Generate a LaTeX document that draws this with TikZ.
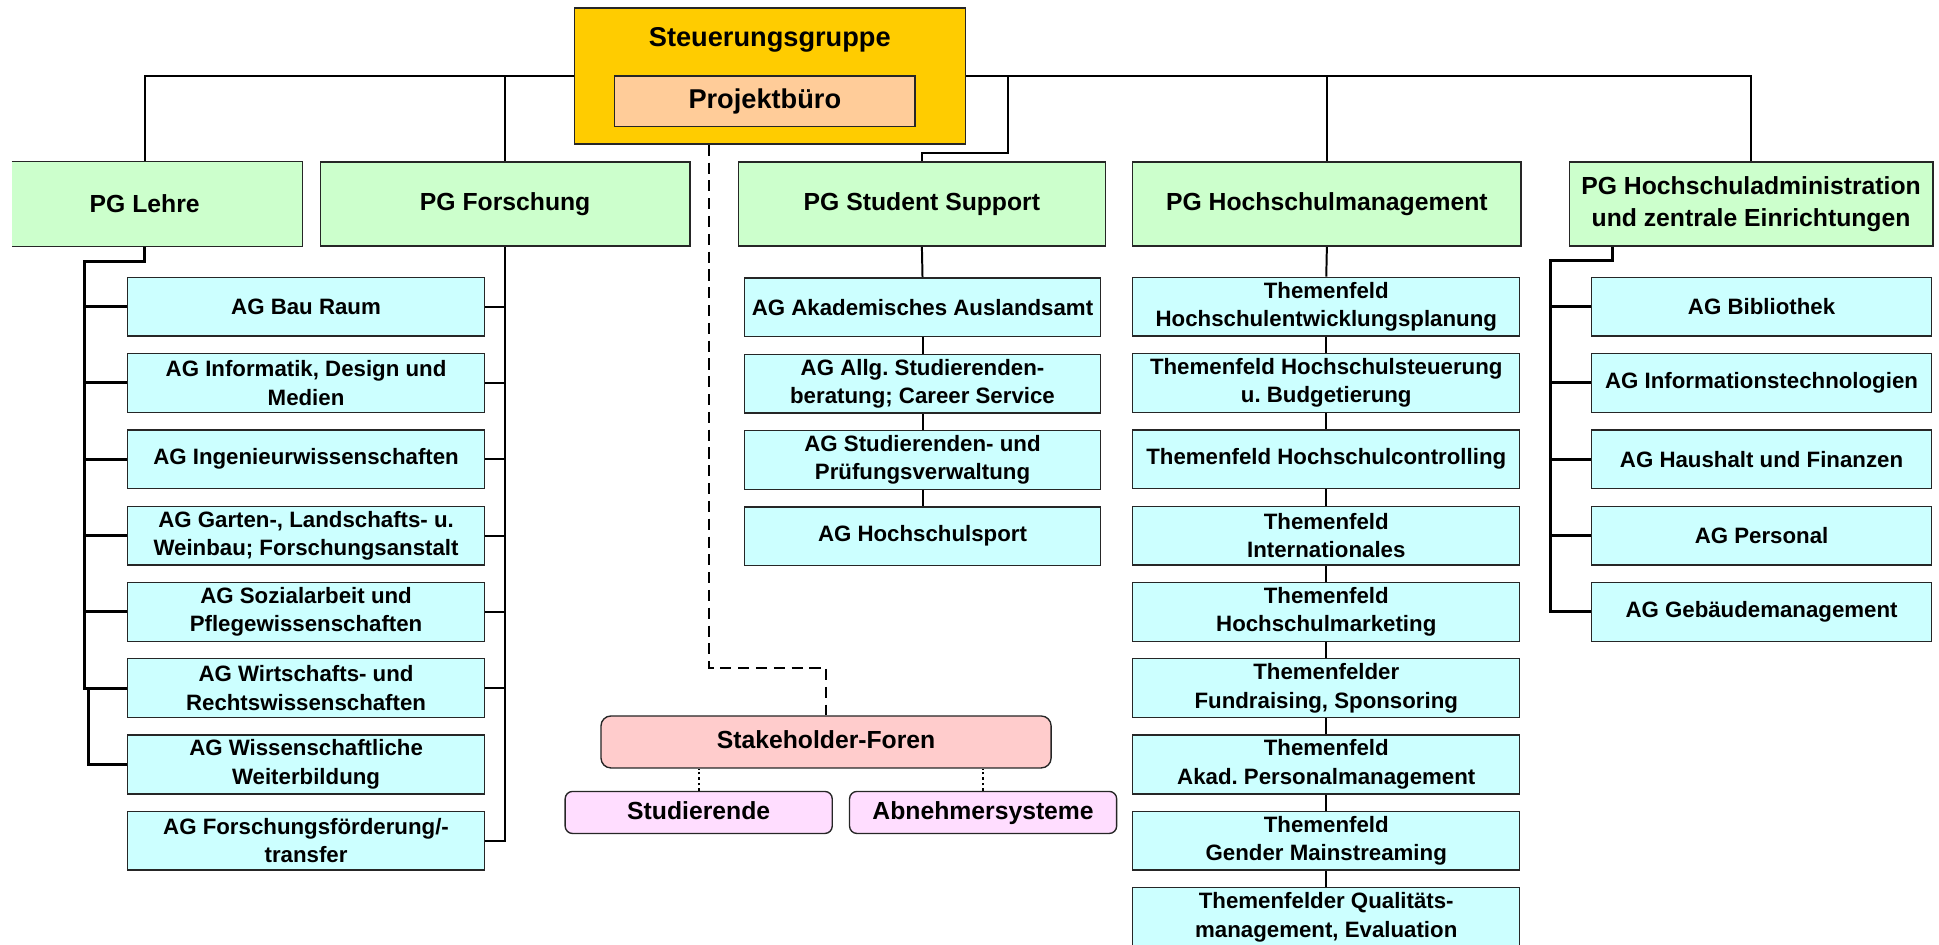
\documentclass[tikz,border=0pt]{standalone}
\usepackage{fontspec}
\setmainfont{Liberation Sans}
\usetikzlibrary{positioning,backgrounds}
\frenchspacing

\definecolor{gold}{HTML}{FFCC00}
\definecolor{peach}{HTML}{FFCC99}
\definecolor{pggreen}{HTML}{CCFFCC}
\definecolor{agcyan}{HTML}{CCFFFF}
\definecolor{forumrose}{HTML}{FFCCCC}
\definecolor{groupviolet}{HTML}{FFDDFF}

\tikzset{
  frame/.style={draw=black!85, line width=0.55pt},
  box/.style={frame, inner sep=1pt, align=center},
  pg/.style={box, fill=pggreen, minimum height=34pt, font=\fontsize{10}{13.2}\selectfont\bfseries},
  ag/.style={box, fill=agcyan, minimum height=23.75pt, font=\fontsize{9}{11.5}\selectfont\bfseries},
  agl/.style={ag, minimum width=144.5pt},
  ags/.style={ag, minimum width=144pt},
  agm/.style={ag, minimum width=156.5pt},
  aga/.style={ag, minimum width=137.5pt},
  forumbox/.style={box, rounded corners=4pt, text height=7.4pt, text depth=2.1pt, font=\fontsize{10}{12}\selectfont\bfseries},
  link/.style={line width=0.8pt},
  bus/.style={line width=1.2pt},
  dashline/.style={line width=1pt, dash pattern=on 4.5pt off 2.7pt},
  dotline/.style={line width=0.9pt, dash pattern=on 1pt off 1.2pt}
}

\begin{document}
\begin{tikzpicture}[x=0.5pt, y=-0.5pt, node distance=30.85pt]
\useasboundingbox (0,0) rectangle (1568,764);

\node (steuer) [box, fill=gold, minimum width=158pt, minimum height=55pt] at (622.5,61.5) {};
\node (steuertitle) [anchor=base, font=\fontsize{11}{13}\selectfont\bfseries] at (622.5,37.7) {Steuerungsgruppe};
\node (buero) [box, fill=peach, minimum width=121.5pt, minimum height=20.5pt, font=\fontsize{11}{13}\selectfont\bfseries] at (618.5,82) {Projektbüro};

\node (lehre) [pg, draw=none, minimum width=117pt] at (127,165) {PG Lehre\hspace*{10pt}};
\draw[frame] (lehre.north west) -- (lehre.north east) -- (lehre.south east) -- (lehre.south west);
\node (forsch) [pg, minimum width=149.5pt] at (408.5,165) {PG Forschung};
\node (support) [pg, minimum width=148.5pt] at (745.5,165) {PG Student Support};
\node (hsm) [pg, minimum width=157pt] at (1073,165) {PG Hochschulmanagement};
\node (admin) [pg, minimum width=147pt] at (1416,165) {PG Hochschuladministration\\und zentrale Einrichtungen};

\node (le1) [agl] at (247.5,248) {AG Bau Raum};
\node (le2) [agl, below of=le1] {AG Informatik, Design und\\Medien};
\node (le3) [agl, below of=le2] {AG Ingenieurwissenschaften};
\node (le4) [agl, below of=le3] {AG Garten-, Landschafts- u.\\Weinbau; Forschungsanstalt};
\node (le5) [agl, below of=le4] {AG Sozialarbeit und\\Pflegewissenschaften};
\node (le6) [agl, below of=le5] {AG Wirtschafts- und\\Rechtswissenschaften};
\node (le7) [agl, below of=le6] {AG Wissenschaftliche\\Weiterbildung};
\node (le8) [agl, below of=le7] {AG Forschungsförderung/-\\transfer};

\node (ss1) [ags] at (746,248.5) {AG Akademisches Auslandsamt};
\node (ss2) [ags, below of=ss1] {AG Allg. Studierenden-\\beratung; Career Service};
\node (ss3) [ags, below of=ss2] {AG Studierenden- und\\Prüfungsverwaltung};
\node (ss4) [ags, below of=ss3] {AG Hochschulsport};

\node (hm1) [agm] at (1072.5,248) {Themenfeld\\Hochschulentwicklungsplanung};
\node (hm2) [agm, below of=hm1] {Themenfeld Hochschulsteuerung\\u. Budgetierung};
\node (hm3) [agm, below of=hm2] {Themenfeld Hochschulcontrolling};
\node (hm4) [agm, below of=hm3] {Themenfeld\\Internationales};
\node (hm5) [agm, below of=hm4] {Themenfeld\\Hochschulmarketing};
\node (hm6) [agm, below of=hm5] {Themenfelder\\Fundraising, Sponsoring};
\node (hm7) [agm, below of=hm6] {Themenfeld\\Akad. Personalmanagement};
\node (hm8) [agm, below of=hm7] {Themenfeld\\Gender Mainstreaming};
\node (hm9) [agm, below of=hm8] {Themenfelder Qualitäts-\\management, Evaluation};

\node (ad1) [aga] at (1424.5,248) {AG Bibliothek};
\node (ad2) [aga, below of=ad1] {AG Informationstechnologien};
\node (ad3) [aga, below of=ad2] {AG Haushalt und Finanzen};
\node (ad4) [aga, below of=ad3] {AG Personal};
\node (ad5) [aga, below of=ad4] {AG Gebäudemanagement};

\node (forum) [forumbox, fill=forumrose, minimum width=182pt, minimum height=21pt] at (668,600) {Stakeholder-Foren};
\node (stud) [forumbox, fill=groupviolet, minimum width=108pt, minimum height=17pt, rounded corners=3pt] at (565,657) {Studierende};
\node (abn) [forumbox, fill=groupviolet, minimum width=108pt, minimum height=17pt, rounded corners=3pt] at (795,657) {Abnehmersysteme};

\coordinate (lcorner) at (68.5,211.5);
\coordinate (acorner) at (1254,211);

\begin{scope}[on background layer]
\draw[link] ([xshift=-5pt]lehre.north) |- (admin.north |- steuer.center) -- (admin.north);
\draw[link] (forsch.north) -- (forsch.north |- steuer.center);
\draw[link] (hsm.north) -- (hsm.north |- steuer.center);
\draw[link] (support.north) -- ++(0,-7) -| ([xshift=17pt]steuer.east);

\draw[bus] ([xshift=-5pt]lehre.south) |- (lcorner) -- (lcorner |- le6.west) -- (le6.west);
\foreach \n in {1,...,5}
  \draw[bus] (lcorner |- le\n.west) -- (le\n.west);
\draw[bus] ([xshift=1.5pt]lcorner |- le6.west) |- (le7.west);

\draw[link] (forsch.south) |- (le8.east);
\foreach \n in {1,...,6}
  \draw[link] (forsch.south |- le\n.east) -- (le\n.east);

\draw[link] (support.south) -- (ss1.north);
\foreach \a/\b in {1/2,2/3,3/4}
  \draw[link] (ss\a.south) -- (ss\b.north);

\draw[link] (hsm.south) -- (hm1.north);
\foreach \a/\b in {1/2,2/3,3/4,4/5,5/6,6/7,7/8,8/9}
  \draw[link] (hm\a.south) -- (hm\b.north);

\draw[bus] ([xshift=-56pt]admin.south) |- (acorner) -- (acorner |- ad5.west) -- (ad5.west);
\foreach \n in {1,...,4}
  \draw[bus] (acorner |- ad\n.west) -- (ad\n.west);

\draw[dashline] ([xshift=-24.5pt]steuer.south) -- ++(0,423) -| (forum.north);
\draw[dotline] (stud.north) -- (stud.north |- forum.south);
\draw[dotline] (abn.north) -- (abn.north |- forum.south);
\end{scope}

\end{tikzpicture}
\end{document}
